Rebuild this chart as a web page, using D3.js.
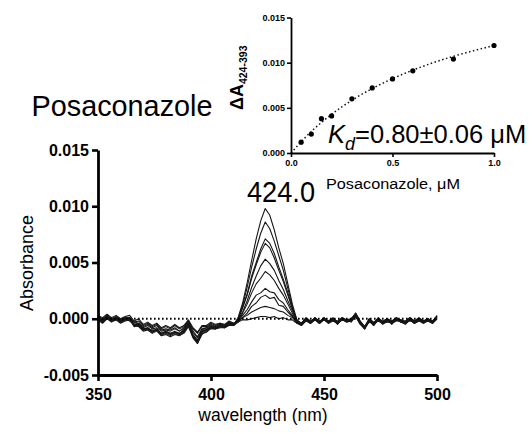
<!DOCTYPE html>
<html>
<head>
<meta charset="utf-8">
<script src="https://cdn.jsdelivr.net/npm/d3@7/dist/d3.min.js"></script>
<style>
  html, body { margin: 0; padding: 0; background: #fff; }
  svg { display: block; font-family: "Liberation Sans", Arial, Helvetica, sans-serif; }
</style>
</head>
<body>
<svg id="chart" width="532" height="434"></svg>
<script>
// ---- Difference spectra (absorbance in milli-units, 1e-3) ----
const wavelengths = [350,352,354,356,358,360,362,364,366,368,370,372,374,376,378,380,382,384,386,388,
  390,392,394,396,398,400,402,404,406,408,410,412,414,416,418,420,422,424,426,428,430,432,434,436,438,
  440,442,444,446,448,450,452,454,456,458,460,462,464,466,468,470,472,474,476,478,480,482,484,486,488,
  490,492,494,496,498,500];

const spec01 = [0.0,-0.3,0.1,-0.2,0.0,-0.3,0.0,0.1,-0.3,-0.2, -0.6,-0.4,-0.7,-0.5,-0.9,-0.7,-0.9,-0.6,-0.9,-0.7,
  -0.2,-0.9,-1.3,-0.7,-0.7,-0.4,-0.6,-0.4,-0.6,-0.3, -0.4,-0.3,-0.1,-0.1,0.0,0.1,0.2,0.2,0.1,0.2,
  0.0,0.1,-0.1,-0.1,-0.4,-0.5,-0.1,-0.4,0.0,-0.3, -0.1,-0.3,0.0,-0.4,0.0,-0.2,-0.1,0.3,-0.4,-0.8,
  -0.1,-0.4,-0.1,-0.4,-0.1,-0.3,0.0,-0.2,-0.3,0.0, -0.3,0.0,-0.3,-0.1,-0.3,0.1];
const spec02 = [0.3,0.1,0.4,0.1,0.3,0.0,0.2,0.3,-0.2,0.0, -0.5,-0.3,-0.6,-0.4,-0.8,-0.6,-0.8,-0.5,-0.8,-0.6,
  -0.1,-0.8,-1.2,-0.6,-0.6,-0.3,-0.5,-0.4,-0.5,-0.2, -0.4,-0.2,0.1,0.3,0.6,0.8,1.0,1.1,1.0,0.9,
  0.7,0.6,0.3,0.1,-0.3,-0.4,0.0,-0.3,0.1,-0.2, 0.0,-0.2,0.1,-0.3,0.1,-0.1,0.0,0.4,-0.3,-0.7,
  0.0,-0.3,0.0,-0.2,0.0,-0.3,0.1,-0.1,-0.2,0.1, -0.2,0.1,-0.2,0.0,-0.2,0.2];
const spec03 = [-0.1,-0.4,0.0,-0.3,-0.1,-0.4,-0.2,-0.1,-0.6,-0.5, -0.9,-0.8,-1.1,-0.9,-1.3,-1.1,-1.3,-1.1,-1.3,-1.0,
  -0.5,-1.4,-1.9,-1.1,-0.9,-0.7,-0.8,-0.6,-0.7,-0.4, -0.6,-0.3,0.1,0.5,1.1,1.4,1.9,2.1,1.8,1.9,
  1.2,1.1,0.6,0.2,-0.4,-0.6,-0.2,-0.4,-0.1,-0.4, -0.1,-0.4,-0.2,-0.4,-0.1,-0.3,-0.2,0.2,-0.4,-0.9,
  -0.2,-0.6,-0.1,-0.5,-0.2,-0.4,-0.1,-0.3,-0.5,-0.1, -0.4,-0.2,-0.4,-0.2,-0.4,0.0];
const spec04 = [0.2,0.0,0.3,0.0,0.2,-0.1,0.1,0.1,-0.3,-0.4, -0.7,-0.5,-0.8,-0.6,-1.0,-0.9,-1.0,-0.8,-1.1,-0.8,
  -0.2,-1.1,-1.6,-0.9,-0.8,-0.5,-0.7,-0.5,-0.6,-0.3, -0.5,-0.2,0.3,0.8,1.5,2.1,2.3,2.7,2.4,2.3,
  1.7,1.4,0.8,0.3,-0.3,-0.4,0.1,-0.2,0.0,-0.3, 0.1,-0.3,-0.1,-0.2,0.1,-0.1,-0.1,0.5,-0.2,-0.8,
  0.0,-0.4,0.1,-0.3,0.0,-0.2,0.1,-0.1,-0.3,0.1, -0.2,0.0,-0.2,0.0,-0.3,0.3];
const spec05 = [0.1,-0.3,0.2,-0.2,0.1,-0.2,-0.1,0.1,-0.5,-0.6, -0.9,-0.9,-1.1,-0.9,-1.3,-1.1,-1.3,-1.2,-1.3,-1.1,
  -0.5,-1.4,-2.0,-1.1,-1.0,-0.7,-0.8,-0.7,-0.7,-0.5, -0.5,-0.2,0.5,1.3,2.3,3.1,3.6,4.2,3.9,3.4,
  2.7,2.1,1.3,0.5,-0.2,-0.4,-0.1,-0.3,-0.1,-0.4, 0.0,-0.2,0.0,-0.3,-0.1,-0.2,-0.2,0.4,-0.2,-0.7,
  -0.1,-0.5,0.0,-0.3,-0.2,-0.3,0.0,-0.2,-0.3,0.0, -0.3,0.0,-0.3,-0.1,-0.2,0.1];
const spec06 = [0.3,-0.2,0.1,-0.1,0.0,-0.1,0.0,-0.1,-0.6,-0.5, -1.0,-0.8,-1.2,-1.0,-1.4,-1.2,-1.4,-1.2,-1.4,-1.1,
  -0.6,-1.5,-2.1,-1.2,-1.0,-0.8,-0.9,-0.7,-0.8,-0.5, -0.6,-0.1,0.6,1.6,2.8,3.8,4.7,5.3,4.9,4.3,
  3.4,2.6,1.6,0.7,-0.2,-0.5,-0.1,-0.4,0.0,-0.2, -0.1,-0.3,-0.1,-0.5,0.0,-0.2,0.0,0.3,-0.4,-0.8,
  -0.2,-0.4,-0.2,-0.4,-0.1,-0.2,-0.1,-0.3,-0.4,-0.1, -0.3,-0.2,-0.2,-0.2,-0.3,0.2];
const spec07 = [0.0,-0.1,0.2,0.0,0.1,-0.2,0.1,0.0,-0.5,-0.4, -0.8,-0.6,-0.9,-0.8,-1.1,-1.0,-1.1,-0.9,-1.1,-0.9,
  -0.3,-1.2,-1.7,-1.0,-0.8,-0.6,-0.7,-0.5,-0.6,-0.4, -0.5,0.0,1.0,2.1,3.6,4.8,5.9,6.7,6.3,5.4,
  4.3,3.3,2.1,0.9,-0.1,-0.4,0.0,-0.2,-0.1,-0.3, 0.1,-0.3,-0.1,-0.3,0.0,-0.2,-0.1,0.5,-0.3,-0.7,
  -0.2,-0.5,-0.1,-0.3,0.0,-0.4,-0.2,-0.2,-0.3,-0.1, -0.2,-0.1,-0.3,0.0,-0.3,0.1];
const spec08 = [0.2,-0.1,0.1,-0.2,0.0,-0.3,-0.1,0.0,-0.7,-0.6, -1.0,-0.9,-1.2,-1.0,-1.5,-1.3,-1.5,-1.3,-1.5,-1.2,
  -0.5,-1.6,-2.2,-1.3,-1.2,-0.8,-0.9,-0.7,-0.8,-0.5, -0.6,-0.1,1.0,2.2,3.8,5.0,6.2,7.1,6.7,5.8,
  4.6,3.5,2.3,0.9,-0.1,-0.5,-0.2,-0.3,0.1,-0.4, 0.0,-0.4,0.0,-0.4,-0.1,-0.1,-0.3,0.2,-0.5,-0.9,
  -0.1,-0.6,0.0,-0.4,-0.3,-0.3,-0.1,-0.1,-0.4,0.0, -0.4,-0.2,-0.2,-0.1,-0.4,0.0];
const spec09 = [0.0,-0.2,0.3,-0.1,0.0,-0.2,0.0,-0.2,-0.5,-0.5, -0.9,-0.9,-1.0,-1.0,-1.3,-1.2,-1.4,-1.2,-1.4,-1.0,
  -0.4,-1.5,-2.0,-1.2,-1.0,-0.7,-0.8,-0.6,-0.7,-0.5, -0.5,0.0,1.2,2.8,4.6,6.2,7.6,8.6,8.0,6.9,
  5.6,4.3,2.7,1.1,-0.2,-0.5,0.0,-0.4,-0.1,-0.3, -0.1,-0.2,-0.2,-0.3,0.0,-0.3,-0.1,0.4,-0.3,-0.8,
  -0.3,-0.4,-0.2,-0.3,-0.1,-0.5,0.0,-0.3,-0.3,-0.2, -0.3,0.0,-0.4,-0.1,-0.3,0.2];
const spec10 = [0.2,-0.3,0.1,-0.2,-0.1,-0.3,-0.1,0.0,-0.6,-0.7, -1.1,-1.0,-1.3,-1.1,-1.5,-1.4,-1.6,-1.4,-1.5,-1.3,
  -0.7,-1.7,-2.2,-1.4,-1.1,-0.9,-0.9,-0.8,-0.8,-0.6, -0.6,0.1,1.4,3.2,5.2,7.1,8.7,9.8,9.2,7.9,
  6.3,4.9,3.1,1.3,-0.1,-0.6,-0.1,-0.3,0.0,-0.4, 0.0,-0.3,-0.1,-0.4,-0.1,-0.2,-0.2,0.3,-0.4,-0.9,
  -0.2,-0.5,-0.1,-0.4,-0.2,-0.4,-0.1,-0.2,-0.4,-0.1, -0.4,-0.1,-0.3,-0.2,-0.4,0.1];

// Ligand-free reference trace (zero difference)
const referenceWl = [350, 500];
const referenceAbs = [0, 0];

const spectra = [spec01, spec02, spec03, spec04, spec05, spec06, spec07, spec08, spec09, spec10];

const xTicks = [350, 400, 450, 500];
const yTicks = [-0.005, 0.000, 0.005, 0.010, 0.015];
const peakLabel = "424.0";

// ---- Titration: ΔA(424-393) vs posaconazole ----
const concUM = [0.05, 0.10, 0.15, 0.20, 0.30, 0.40, 0.50, 0.60, 0.80, 1.00];
const deltaA = [0.0012, 0.0021, 0.0038, 0.0041, 0.0060, 0.0072, 0.0082, 0.0091, 0.0104, 0.0119];
const fitConc = [0, 0.1, 0.2, 0.3, 0.4, 0.5, 0.6, 0.7, 0.8, 0.9, 1.0];
const fitDeltaA = [0, 0.00238, 0.00428, 0.00584, 0.00713, 0.00823, 0.00917, 0.00999, 0.0107, 0.01133, 0.01189];
const insetXTicks = [0.0, 0.5, 1.0];
const insetYTicks = [0.000, 0.005, 0.010, 0.015];

const svg = d3.select("#chart");

// ===== Main spectra panel =====
const x = d3.scaleLinear().domain([350, 500]).range([98, 437]);
const y = d3.scaleLinear().domain([-0.005, 0.015]).range([375, 150]);

const line = d3.line()
  .x(d => x(d[0]))
  .y(d => y(d[1]));

svg.append("g").selectAll("path")
  .data(spectra)
  .join("path")
  .attr("d", s => line(wavelengths.map((w, i) => [w, s[i] / 1000])))
  .attr("fill", "none")
  .attr("stroke", "#161616")
  .attr("stroke-width", 1.1)
  .attr("stroke-linejoin", "round");

// dotted zero-difference trace, drawn on top
svg.append("path")
  .datum(referenceWl.map((w, i) => [w, referenceAbs[i]]))
  .attr("d", line)
  .attr("fill", "none")
  .attr("stroke", "#000")
  .attr("stroke-width", 1.8)
  .attr("stroke-dasharray", "1.6,2.4");

const fmt3 = d => d.toFixed(3);

const yAxis = svg.append("g")
  .attr("transform", "translate(98,0)")
  .call(d3.axisLeft(y).tickValues(yTicks).tickFormat(fmt3).tickSize(6).tickSizeOuter(0).tickPadding(3));
const xAxis = svg.append("g")
  .attr("transform", "translate(0,375)")
  .call(d3.axisBottom(x).tickValues(xTicks).tickFormat(d3.format("d")).tickSize(6).tickSizeOuter(0).tickPadding(8));

[yAxis, xAxis].forEach(g => {
  g.select(".domain").attr("stroke", "#000").attr("stroke-width", 2.8);
  g.selectAll(".tick line").attr("stroke", "#000").attr("stroke-width", 2.6);
  g.selectAll(".tick text")
    .attr("fill", "#000")
    .style("font-family", "'Liberation Sans', Arial, sans-serif")
    .style("font-size", "16px")
    .style("font-weight", "bold");
});

svg.append("text")
  .attr("x", 263).attr("y", 421)
  .attr("text-anchor", "middle")
  .style("font-size", "17.5px")
  .text("wavelength (nm)");

svg.append("text")
  .attr("transform", "translate(33,263) rotate(-90)")
  .attr("text-anchor", "middle")
  .style("font-size", "18px")
  .text("Absorbance");

svg.append("text")
  .attr("x", 247).attr("y", 201.5)
  .attr("textLength", 68).attr("lengthAdjust", "spacingAndGlyphs")
  .style("font-size", "30px")
  .text(peakLabel);

svg.append("text")
  .attr("x", 31.5).attr("y", 116)
  .attr("textLength", 181).attr("lengthAdjust", "spacingAndGlyphs")
  .style("font-size", "29px")
  .text("Posaconazole");

// ===== Inset: binding curve =====
const xi = d3.scaleLinear().domain([0, 1]).range([291, 494]);
const yi = d3.scaleLinear().domain([0, 0.015]).range([153, 17.5]);

const fitLine = d3.line()
  .x(d => xi(d[0]))
  .y(d => yi(d[1]))
  .curve(d3.curveMonotoneX);

svg.append("path")
  .datum(fitConc.map((c, i) => [c, fitDeltaA[i]]))
  .attr("d", fitLine)
  .attr("fill", "none")
  .attr("stroke", "#111")
  .attr("stroke-width", 1.5)
  .attr("stroke-dasharray", "1.5,2.5");

svg.append("g").selectAll("circle")
  .data(concUM.map((c, i) => [c, deltaA[i]]))
  .join("circle")
  .attr("cx", d => xi(d[0]))
  .attr("cy", d => yi(d[1]))
  .attr("r", 2.6)
  .attr("fill", "#000");

const yiAxis = svg.append("g")
  .attr("transform", "translate(291,0)")
  .call(d3.axisLeft(yi).tickValues(insetYTicks).tickFormat(fmt3).tickSize(4).tickSizeOuter(0).tickPadding(2));
const xiAxis = svg.append("g")
  .attr("transform", "translate(0,153)")
  .call(d3.axisBottom(xi).tickValues(insetXTicks).tickFormat(d3.format(".1f")).tickSize(4).tickSizeOuter(0).tickPadding(3));

[yiAxis, xiAxis].forEach(g => {
  g.select(".domain").attr("stroke", "#000").attr("stroke-width", 1.8);
  g.selectAll(".tick line").attr("stroke", "#000").attr("stroke-width", 1.6);
  g.selectAll(".tick text")
    .attr("fill", "#000")
    .style("font-family", "'Liberation Sans', Arial, sans-serif")
    .style("font-size", "9px")
    .style("font-weight", "bold");
});

svg.append("text")
  .attr("x", 326).attr("y", 188.5)
  .attr("textLength", 134).attr("lengthAdjust", "spacingAndGlyphs")
  .style("font-size", "14px")
  .text("Posaconazole, μM");

// rotated ΔA(424-393) label
const dA = svg.append("text")
  .attr("transform", "translate(243,110) rotate(-90)")
  .style("font-weight", "bold");
dA.append("tspan").style("font-size", "18px").text("ΔA");
dA.append("tspan").style("font-size", "10.5px").attr("dy", 4).text("424-393");

// dissociation constant annotation
const kd = svg.append("text")
  .attr("x", 328).attr("y", 143)
  .style("font-size", "25.5px");
kd.append("tspan").style("font-style", "italic").text("K");
kd.append("tspan").style("font-style", "italic").style("font-size", "18px").attr("dy", 7).text("d");
kd.append("tspan").attr("dy", -7).text("=0.80±0.06 μM");
</script>
</body>
</html>
